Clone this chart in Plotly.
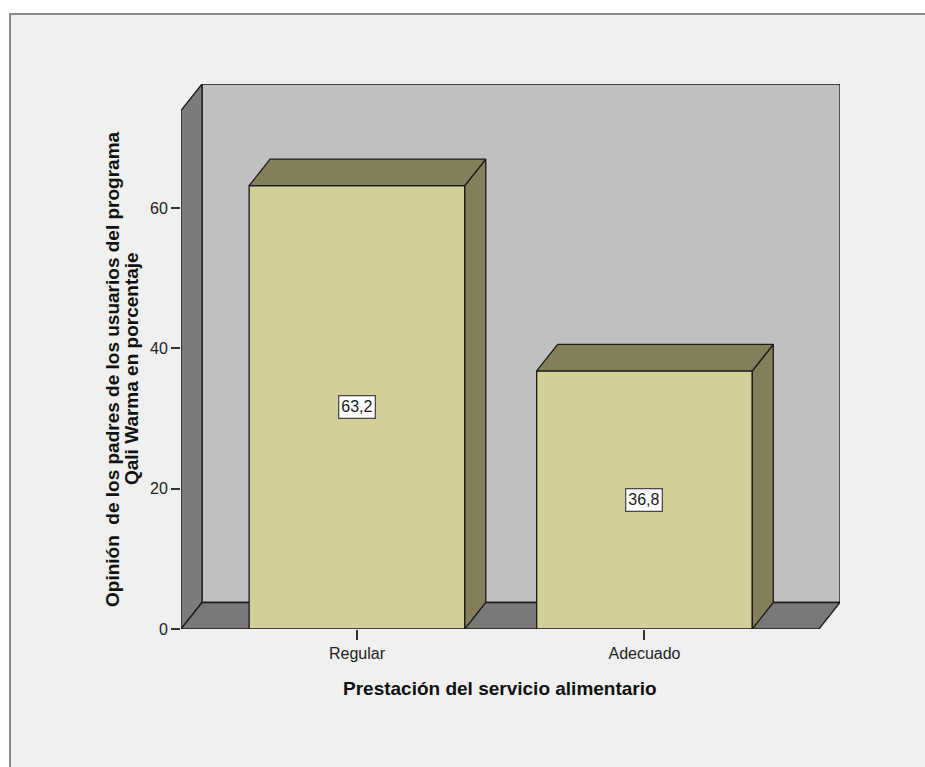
import plotly.graph_objects as go

# ---- data -------------------------------------------------------------
categories = ["Regular", "Adecuado"]
percentages = [63.2, 36.8]
value_labels = ["63,2", "36,8"]
y_ticks = [0, 20, 40, 60]

x_title = "Prestación del servicio alimentario"
y_title_lines = ["Opinión  de los padres de los usuarios del programa",
                 "Qali Warma en porcentaje"]

# ---- geometry of the pseudo-3D box ---------------------------------
W, H = 925, 767
PL, PR, PT, PB = 181, 840, 84, 629          # plot area in pixels
X_RANGE = [-0.612, 1.680]                    # category units
Y_RANGE = [0, 77.7]
DX, DY = 0.073, 3.78                         # depth offset (data units)
X_FRONT_RIGHT = X_RANGE[1] - DX
Y_FRONT_TOP = Y_RANGE[1] - DY
BAR_W = 0.75

FONT = "Liberation Sans, Arial, sans-serif"
BG = "#f0f0f0"
WALL_BACK = "#c0c0c0"
WALL_SIDE = "#7b7b7b"
FLOOR = "#787878"
BAR_FRONT = "#d3cf99"
BAR_SHADE = "#837f5b"
EDGE = "#1a1a1a"


def px_x(p):
    return (p - PL) / (PR - PL)


def px_y(p):
    return (PB - p) / (PB - PT)


def path(points):
    return "M " + " L ".join(f"{x},{y}" for x, y in points) + " Z"


x0 = X_RANGE[0]
shapes = [
    # chart panel background inside the frame
    dict(type="rect", xref="paper", yref="paper", layer="below",
         x0=px_x(10), x1=px_x(W), y0=px_y(H), y1=px_y(14),
         fillcolor=BG, line=dict(width=0)),
    # back wall
    dict(type="path", layer="below", xref="x", yref="y",
         path=path([(x0 + DX, DY), (x0 + DX, Y_RANGE[1]),
                    (X_RANGE[1], Y_RANGE[1]), (X_RANGE[1], DY)]),
         fillcolor=WALL_BACK, line=dict(color=EDGE, width=1.3)),
    # left side wall
    dict(type="path", layer="below", xref="x", yref="y",
         path=path([(x0, 0), (x0, Y_FRONT_TOP), (x0 + DX, Y_RANGE[1]),
                    (x0 + DX, DY)]),
         fillcolor=WALL_SIDE, line=dict(color=EDGE, width=1.3)),
    # floor
    dict(type="path", layer="below", xref="x", yref="y",
         path=path([(x0, 0), (x0 + DX, DY), (X_RANGE[1], DY),
                    (X_FRONT_RIGHT, 0)]),
         fillcolor=FLOOR, line=dict(color=EDGE, width=1.3)),
    # chart frame (top and left edges)
    dict(type="line", xref="paper", yref="paper",
         x0=px_x(9), x1=px_x(W), y0=px_y(14), y1=px_y(14),
         line=dict(color="#8a8a8a", width=2)),
    dict(type="line", xref="paper", yref="paper",
         x0=px_x(10), x1=px_x(10), y0=px_y(13), y1=px_y(H),
         line=dict(color="#8a8a8a", width=2)),
]

fig = go.Figure()

# bar fronts
fig.add_trace(go.Bar(
    x=list(range(len(categories))), y=percentages, width=BAR_W,
    marker=dict(color=BAR_FRONT, line=dict(color=EDGE, width=1.3)),
    hoverinfo="skip", showlegend=False,
))

# top and right faces of each bar, derived from its value
for i, v in enumerate(percentages):
    left, right = i - BAR_W / 2, i + BAR_W / 2
    side = [(right, 0), (right, v), (right + DX, v + DY), (right + DX, DY), (right, 0)]
    top = [(left, v), (left + DX, v + DY), (right + DX, v + DY), (right, v), (left, v)]
    for face in (side, top):
        fig.add_trace(go.Scatter(
            x=[p[0] for p in face], y=[p[1] for p in face],
            mode="lines", fill="toself", fillcolor=BAR_SHADE,
            line=dict(color=EDGE, width=1.3),
            hoverinfo="skip", showlegend=False,
        ))

annotations = []
# value boxes at mid-height of each bar
for i, (v, lab) in enumerate(zip(percentages, value_labels)):
    annotations.append(dict(
        x=i, y=v / 2, xref="x", yref="y", text=lab, showarrow=False,
        font=dict(family=FONT, size=16, color="#1a1a1a"),
        bgcolor="white", bordercolor="#4a4a4a", borderwidth=1.3, borderpad=2,
    ))

# axis titles
annotations.append(dict(
    x=px_x(500), y=px_y(688), xref="paper", yref="paper",
    text=f"<b>{x_title}</b>", showarrow=False,
    font=dict(family=FONT, size=19, color="#111111"),
    xanchor="center", yanchor="middle",
))
for k, line in enumerate(y_title_lines):
    annotations.append(dict(
        x=px_x(112 + 19 * k), y=px_y(369), xref="paper", yref="paper",
        text=f"<b>{line}</b>", showarrow=False, textangle=-90,
        font=dict(family=FONT, size=19, color="#111111"),
        xanchor="center", yanchor="middle",
    ))

fig.update_layout(
    width=W, height=H,
    margin=dict(l=PL, r=W - PR, t=PT, b=H - PB, pad=0),
    paper_bgcolor="white", plot_bgcolor=BG,
    shapes=shapes, annotations=annotations,
    showlegend=False,
    xaxis=dict(
        range=X_RANGE, tickvals=list(range(len(categories))),
        ticktext=categories, ticks="outside", ticklen=10,
        tickcolor="#333333", tickwidth=1.5,
        showgrid=False, zeroline=False, showline=False,
        tickfont=dict(family=FONT, size=16, color="#222222"),
        fixedrange=True,
    ),
    yaxis=dict(
        range=Y_RANGE, tickvals=y_ticks, ticks="outside", ticklen=9,
        tickcolor="#333333", tickwidth=1.5,
        showgrid=False, zeroline=False, showline=False,
        tickfont=dict(family=FONT, size=16, color="#222222"),
        fixedrange=True,
    ),
)

fig.write_html("out.html")
